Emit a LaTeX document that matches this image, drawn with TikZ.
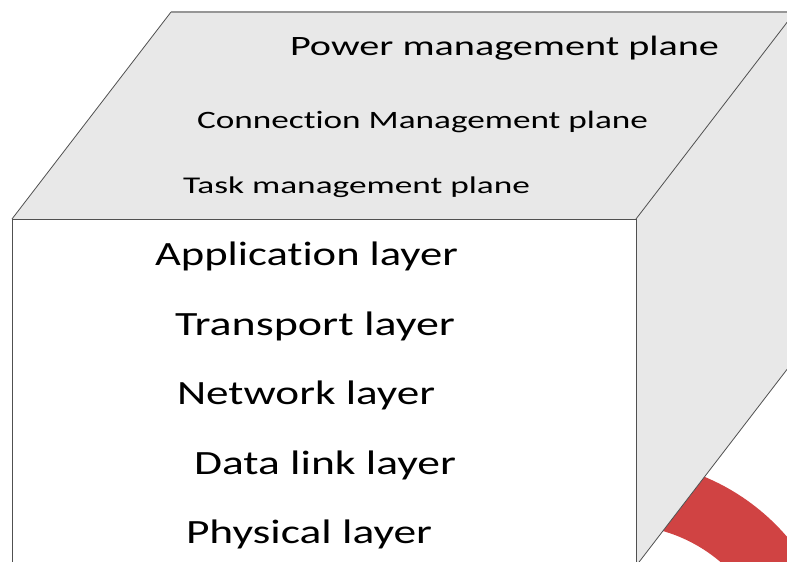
\documentclass[tikz,border=0pt]{standalone}
\usepackage{fontspec}
\setmainfont{Carlito}[Ligatures=NoCommon]
\usepackage{graphicx}
\definecolor{facegray}{RGB}{232,232,232}
\definecolor{edgegray}{RGB}{80,80,80}
\definecolor{topgray}{RGB}{150,150,150}
\definecolor{arcred}{RGB}{208,67,67}
\newcommand\fitw[2]{\resizebox{#1pt}{\height}{#2}}
\begin{document}
\begin{tikzpicture}[x=1pt,y=-1pt,
  lbl/.style={anchor=base west, inner sep=0pt, outer sep=0pt, text=black},
  plane/.style={lbl, font=\fontsize{26}{30}\selectfont},
  layer/.style={lbl, font=\fontsize{34}{40}\selectfont},
  edge/.style={draw=edgegray, line width=0.8pt}]
\useasboundingbox (0,0) rectangle (787,562);
\clip (0,0) rectangle (787,562);
% red ring behind the cube
\fill[arcred, even odd rule] (620,680) circle[radius=220] (620,680) circle[radius=155];
% corners
\coordinate (fl) at (12,219);
\coordinate (fr) at (636,219);
\coordinate (bl) at (171,12);
\coordinate (br) at (795,12);
\coordinate (flb) at (12,566);
\coordinate (frb) at (636,566);
\coordinate (brb) at (795,359);
% right face
\fill[facegray] (fr) -- (br) -- (brb) -- (frb) -- cycle;
% top face
\fill[facegray] (fl) -- (bl) -- (br) -- (fr) -- cycle;
% front face
\fill[white] (fl) rectangle (frb);
% edges
\draw[edge] (fl) -- (bl);
\draw[draw=topgray, line width=1.2pt] (bl) -- (br);
\draw[edge] (fr) -- (br);
\draw[edge] (fl) -- (fr);
\draw[edge] (fl) -- (flb);
\draw[edge] (fr) -- (frb);
\draw[edge] (frb) -- (brb);
% plane labels
\node[plane, font=\fontsize{28}{30}\selectfont] (power) at (290,55) {\fitw{429}{Power management plane}};
\node[plane, font=\fontsize{25}{30}\selectfont] (conn) at (197,128) {\fitw{451}{Connection Management plane}};
\node[plane, font=\fontsize{24}{30}\selectfont] (task) at (183,193) {\fitw{347}{Task management plane}};
% layer labels
\node[layer] (app) at (155,265) {\fitw{303}{Application layer}};
\node[layer] (trans) at (175,335) {\fitw{280}{Transport layer}};
\node[layer] (net) at (177,404) {\fitw{258}{Network layer}};
\node[layer] (dl) at (194,474) {\fitw{262}{Data link layer}};
\node[layer] (phy) at (186,543) {\fitw{246}{Physical layer}};
\end{tikzpicture}
\end{document}
